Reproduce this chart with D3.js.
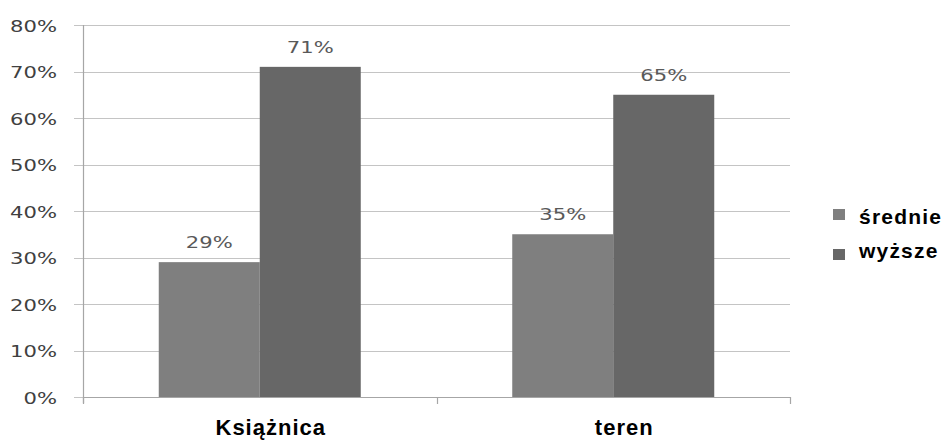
<!DOCTYPE html>
<html>
<head>
<meta charset="utf-8">
<script src="https://cdn.jsdelivr.net/npm/d3@7"></script>
<style>
  html, body { margin: 0; padding: 0; background: #fff; }
  svg { display: block; }
</style>
</head>
<body>
<div id="chart"></div>
<script>
// Education level share by location
const categories = ["Książnica", "teren"];
const seriesNames = ["średnie", "wyższe"];
const srednie = [29, 35];
const wyzsze = [71, 65];
const yTicks = [0, 10, 20, 30, 40, 50, 60, 70, 80];
const seriesColors = ["#7f7f7f", "#676767"];

const W = 946, H = 441;
const plotLeft = 83, plotRight = 790, plotTop = 25, plotBottom = 397;

const svg = d3.select("#chart").append("svg")
  .attr("width", W).attr("height", H);

const y = d3.scaleLinear().domain([0, 80]).range([plotBottom, plotTop]);
const x0 = d3.scaleBand().domain(categories).range([plotLeft, plotRight]).padding(0);
const x1 = d3.scaleBand().domain(seriesNames).range([0, x0.bandwidth()])
  .paddingInner(0).paddingOuter(0.75);

// horizontal gridlines
svg.append("g").selectAll("line").data(yTicks).join("line")
  .attr("x1", plotLeft - 9).attr("x2", plotRight)
  .attr("y1", d => Math.round(y(d)) + 0.5).attr("y2", d => Math.round(y(d)) + 0.5)
  .attr("stroke", "#c4c4c4").attr("stroke-width", 1.2);

// y tick labels (slightly wide letterforms)
svg.append("g").selectAll("text").data(yTicks).join("text")
  .attr("transform", d => `translate(57,${y(d) + 6.5}) scale(1.28,1)`)
  .attr("text-anchor", "end")
  .attr("font-family", "DejaVu Sans")
  .attr("font-size", 16.5)
  .attr("fill", "#404040")
  .text(d => d + "%");

// bars
const rows = categories.map((c, i) => ({ cat: c, vals: [srednie[i], wyzsze[i]] }));
const groups = svg.append("g").selectAll("g").data(rows).join("g")
  .attr("transform", d => `translate(${x0(d.cat)},0)`);

groups.selectAll("rect").data(d => d.vals.map((v, j) => ({ s: seriesNames[j], v, j })))
  .join("rect")
  .attr("x", d => x1(d.s))
  .attr("width", x1.bandwidth())
  .attr("y", d => y(d.v))
  .attr("height", d => y(0) - y(d.v))
  .attr("fill", d => seriesColors[d.j]);

groups.selectAll("text").data(d => d.vals.map((v, j) => ({ s: seriesNames[j], v, j })))
  .join("text")
  .attr("transform", d => `translate(${x1(d.s) + x1.bandwidth() / 2},${y(d.v) - 14}) scale(1.28,1)`)
  .attr("text-anchor", "middle")
  .attr("font-family", "DejaVu Sans")
  .attr("font-size", 16.5)
  .attr("fill", "#595959")
  .text(d => d.v + "%");

// axes lines
const axisColor = "#a6a6a6";
svg.append("line")
  .attr("x1", plotLeft + 0.5).attr("x2", plotLeft + 0.5)
  .attr("y1", plotTop).attr("y2", plotBottom + 6)
  .attr("stroke", axisColor).attr("stroke-width", 1.2);
svg.append("line")
  .attr("x1", plotLeft).attr("x2", plotRight)
  .attr("y1", Math.round(y(0)) + 0.5).attr("y2", Math.round(y(0)) + 0.5)
  .attr("stroke", axisColor).attr("stroke-width", 1.2);
const catEdges = [plotLeft, ...categories.map(c => x0(c) + x0.bandwidth())];
svg.append("g").selectAll("line").data(catEdges).join("line")
  .attr("x1", d => Math.round(d) + 0.5).attr("x2", d => Math.round(d) + 0.5)
  .attr("y1", plotBottom).attr("y2", plotBottom + 7)
  .attr("stroke", axisColor).attr("stroke-width", 1.2);

// category labels
svg.append("g").selectAll("text").data(categories).join("text")
  .attr("x", d => x0(d) + x0.bandwidth() / 2 + 11)
  .attr("y", 435)
  .attr("text-anchor", "middle")
  .attr("font-family", "Liberation Sans, Arial, sans-serif")
  .attr("font-weight", "bold")
  .attr("font-size", 22)
  .attr("letter-spacing", 1)
  .attr("fill", "#000")
  .text(d => d);

// legend
const legendRows = [
  { name: seriesNames[0], color: seriesColors[0], sy: 209, ty: 224 },
  { name: seriesNames[1], color: seriesColors[1], sy: 249, ty: 258 }
];
const lg = svg.append("g");
lg.selectAll("rect").data(legendRows).join("rect")
  .attr("x", 833).attr("y", d => d.sy)
  .attr("width", 12).attr("height", 11)
  .attr("fill", d => d.color);
lg.selectAll("text").data(legendRows).join("text")
  .attr("x", 859).attr("y", d => d.ty)
  .attr("font-family", "Liberation Sans, Arial, sans-serif")
  .attr("font-weight", "bold")
  .attr("font-size", 21)
  .attr("letter-spacing", 1.2)
  .attr("fill", "#000")
  .text(d => d.name);
</script>
</body>
</html>
